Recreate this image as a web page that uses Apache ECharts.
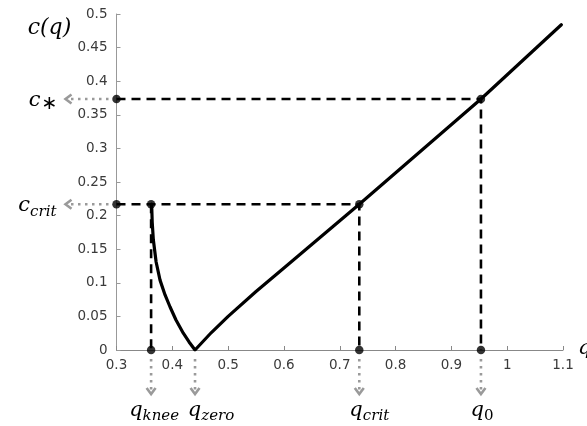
<!DOCTYPE html>
<html>
<head>
<meta charset="utf-8">
<script src="https://cdn.jsdelivr.net/npm/echarts@6/dist/echarts.min.js"></script>
<style>html,body{margin:0;padding:0;background:#fff}#c{width:587px;height:426px}</style>
</head>
<body>
<div id="c"></div>
<script>
// ---- data ----
const curveQ = [0.363, 0.364, 0.366, 0.371, 0.378, 0.387, 0.396, 0.4066, 0.4197, 0.430, 0.4407, 0.47, 0.50, 0.55, 0.60, 0.735, 0.953, 1.097];
const curveC = [0.217, 0.190, 0.164, 0.131, 0.104, 0.082, 0.064, 0.0446, 0.025, 0.012, 0.0, 0.026, 0.050, 0.087, 0.122, 0.217, 0.3735, 0.484];
const qKnee = 0.362, qZero = 0.4407, qCrit = 0.735, q0 = 0.953;
const cCrit = 0.217, cStar = 0.3735;
const xTicks = [0.3, 0.4, 0.5, 0.6, 0.7, 0.8, 0.9, 1, 1.1];
const yTicks = [0, 0.05, 0.1, 0.15, 0.2, 0.25, 0.3, 0.35, 0.4, 0.45, 0.5];
const xMin = 0.3, xMax = 1.1, yMin = 0, yMax = 0.5;

const chart = echarts.init(document.getElementById('c'));
const dash = {color: '#000', width: 2.6, type: [9, 6]};
const dashSeries = (pts) => ({type: 'line', data: pts, symbol: 'none', lineStyle: dash, silent: true, z: 2});

chart.setOption({
  animation: false,
  grid: {left: 116.5, right: 24, top: 14, bottom: 76},
  xAxis: {
    type: 'value', min: xMin, max: xMax, interval: 0.1,
    axisLine: {show: true, onZero: false, lineStyle: {color: '#888', width: 1}},
    axisTick: {show: true, inside: true, length: 4, lineStyle: {color: '#888'}},
    axisLabel: {color: '#3a3a3a', fontFamily: 'DejaVu Sans', fontSize: 13.5, margin: 8,
      formatter: v => { const t = xTicks.find(x => Math.abs(x - v) < 1e-6); return t === undefined ? '' : String(t); }},
    splitLine: {show: false}
  },
  yAxis: {
    type: 'value', min: yMin, max: yMax, interval: 0.05,
    axisLine: {show: true, onZero: false, lineStyle: {color: '#999', width: 1}},
    axisTick: {show: true, inside: true, length: 4, lineStyle: {color: '#999'}},
    axisLabel: {color: '#3a3a3a', fontFamily: 'DejaVu Sans', fontSize: 13.5, margin: 9,
      formatter: v => { const t = yTicks.find(y => Math.abs(y - v) < 1e-6); return t === undefined ? '' : String(t); }},
    splitLine: {show: false}
  },
  series: [
    dashSeries([[xMin, cStar], [q0, cStar], [q0, 0]]),
    dashSeries([[xMin, cCrit], [qCrit, cCrit], [qCrit, 0]]),
    dashSeries([[qKnee, cCrit], [qKnee, 0]]),
    {type: 'line', data: curveQ.map((q, i) => [q, curveC[i]]), symbol: 'none',
     lineStyle: {color: '#000', width: 3.2, cap: 'round', join: 'round'}, z: 3},
    {type: 'scatter', symbolSize: 8.5, itemStyle: {color: '#000'}, z: 4,
     data: [[xMin, cStar], [q0, cStar], [q0, 0], [xMin, cCrit], [qKnee, cCrit], [qCrit, cCrit], [qCrit, 0], [qKnee, 0]]}
  ]
});

const P = (x, y) => chart.convertToPixel({gridIndex: 0}, [x, y]);
const grey = '#9a9a9a';
const els = [];
function dottedH(y) {
  const a = P(xMin, y);
  els.push({type: 'line', shape: {x1: a[0] - 8, y1: a[1], x2: a[0] - 46, y2: a[1]},
    style: {stroke: grey, lineWidth: 2.6, lineDash: [2.5, 4.5]}});
  els.push({type: 'polyline', shape: {points: [[a[0] - 45, a[1] - 4.5], [a[0] - 51, a[1]], [a[0] - 45, a[1] + 4.5]]},
    style: {stroke: grey, lineWidth: 2.6, fill: null}});
}
function dottedV(x) {
  const a = P(x, 0);
  els.push({type: 'line', shape: {x1: a[0], y1: a[1] + 9, x2: a[0], y2: a[1] + 40},
    style: {stroke: grey, lineWidth: 2.6, lineDash: [2.5, 4.5]}});
  els.push({type: 'polyline', shape: {points: [[a[0] - 4.5, a[1] + 38], [a[0], a[1] + 44], [a[0] + 4.5, a[1] + 38]]},
    style: {stroke: grey, lineWidth: 2.6, fill: null}});
}
[cStar, cCrit].forEach(dottedH);
[qKnee, qZero, qCrit, q0].forEach(dottedV);

const serif = 'DejaVu Serif';
const rich = {
  m: {fontFamily: serif, fontStyle: 'italic', fontSize: 21, fill: '#000', lineHeight: 24, verticalAlign: 'bottom'},
  s: {fontFamily: serif, fontStyle: 'italic', fontSize: 15, fill: '#000', lineHeight: 24, verticalAlign: 'bottom', padding: [0, 0, -3, 0]},
  a: {fontFamily: 'DejaVu Sans', fontStyle: 'normal', fontSize: 19, fill: '#000', lineHeight: 24, verticalAlign: 'bottom', padding: [0, 0, -3, 1]},
  r: {fontFamily: serif, fontStyle: 'normal', fontSize: 15, fill: '#000', lineHeight: 24, verticalAlign: 'bottom', padding: [0, 0, -3, 0]}
};
function label(text, x, y, align) {
  els.push({type: 'text', x: x, y: y, style: {text: text, rich: rich, align: align || 'center', verticalAlign: 'middle'}});
}
const pTop = P(xMin, yMax);
els.push({type: 'text', x: pTop[0] - 67, y: pTop[1] + 14,
  style: {text: 'c(q)', fontFamily: serif, fontStyle: 'italic', fontSize: 22, fill: '#000', align: 'center', verticalAlign: 'middle'}});
const ps = P(xMin, cStar), pc = P(xMin, cCrit);
label('{m|c}{a|∗}', ps[0] - 59, ps[1], 'right');
label('{m|c}{s|crit}', pc[0] - 60, pc[1], 'right');
const yl = P(xMin, 0)[1] + 59;
label('{m|q}{s|knee}', P(qKnee, 0)[0] + 3, yl);
label('{m|q}{s|zero}', P(qZero, 0)[0] + 16, yl);
label('{m|q}{s|crit}', P(qCrit, 0)[0] + 10, yl);
label('{m|q}{r|0}', P(q0, 0)[0] + 1, yl);
const xe = P(xMax, 0);
els.push({type: 'text', x: xe[0] + 15, y: xe[1] - 1,
  style: {text: 'q', fontFamily: serif, fontStyle: 'italic', fontSize: 21, fill: '#000', align: 'left', verticalAlign: 'middle'}});

chart.setOption({graphic: els});
</script>
</body>
</html>
